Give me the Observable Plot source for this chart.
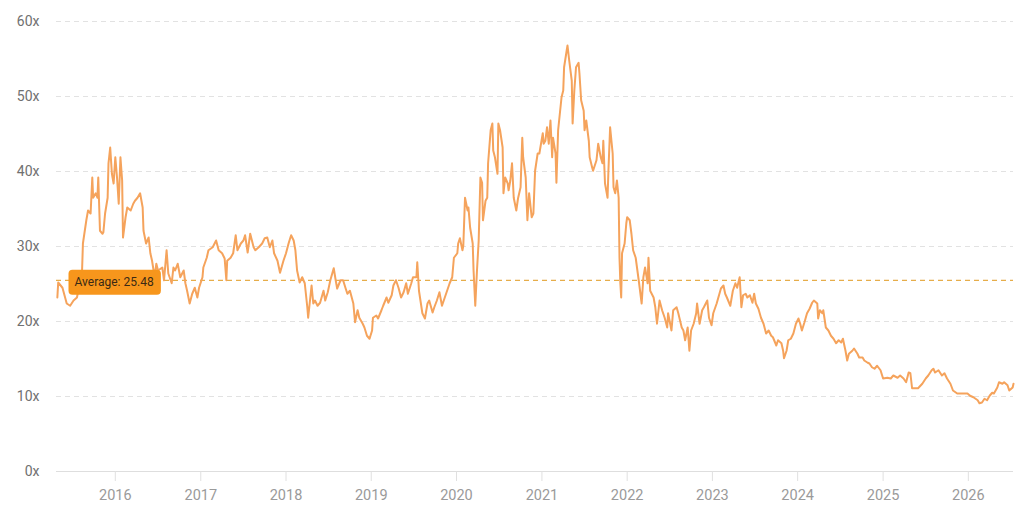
<!DOCTYPE html>
<html><head><meta charset="utf-8">
<script src="https://cdn.jsdelivr.net/npm/d3@7"></script>
<script src="https://cdn.jsdelivr.net/npm/@observablehq/plot@0.6"></script>
<style>html,body{margin:0;padding:0;background:#fff;} #chart{width:1036px;height:514px;}</style>
</head><body><div id="chart"></div>
<script>
// decimal years of each observation
const years = [
2015.32,2015.33,2015.38,2015.43,2015.47,2015.51,2015.55,2015.59,2015.61,2015.62,
2015.66,2015.68,2015.71,2015.73,2015.74,2015.77,2015.79,2015.80,2015.82,2015.85,
2015.86,2015.88,2015.91,2015.92,2015.94,2015.96,2015.98,2016.00,2016.02,2016.04,
2016.06,2016.08,2016.09,2016.12,2016.14,2016.18,2016.21,2016.23,2016.26,2016.29,
2016.32,2016.33,2016.36,2016.39,2016.41,2016.43,2016.46,2016.48,2016.50,2016.55,
2016.57,2016.60,2016.62,2016.66,2016.68,2016.70,2016.73,2016.76,2016.80,2016.82,
2016.84,2016.87,2016.90,2016.93,2016.96,2016.98,2017.02,2017.03,2017.07,2017.09,
2017.14,2017.18,2017.21,2017.25,2017.28,2017.30,2017.31,2017.35,2017.38,2017.41,
2017.43,2017.47,2017.50,2017.52,2017.55,2017.58,2017.62,2017.64,2017.68,2017.72,
2017.75,2017.78,2017.81,2017.84,2017.86,2017.90,2017.93,2017.97,2018.00,2018.03,
2018.06,2018.09,2018.11,2018.13,2018.16,2018.19,2018.22,2018.25,2018.26,2018.30,
2018.32,2018.34,2018.37,2018.40,2018.44,2018.46,2018.49,2018.52,2018.56,2018.58,
2018.60,2018.64,2018.67,2018.70,2018.72,2018.75,2018.79,2018.81,2018.84,2018.86,
2018.90,2018.92,2018.95,2018.98,2019.01,2019.02,2019.06,2019.08,2019.12,2019.14,
2019.18,2019.20,2019.24,2019.26,2019.29,2019.32,2019.35,2019.38,2019.41,2019.43,
2019.47,2019.49,2019.53,2019.54,2019.56,2019.60,2019.63,2019.66,2019.68,2019.72,
2019.74,2019.77,2019.80,2019.83,2019.86,2019.89,2019.92,2019.95,2019.97,2020.01,
2020.02,2020.04,2020.07,2020.08,2020.10,2020.13,2020.14,2020.16,2020.19,2020.20,
2020.22,2020.24,2020.26,2020.28,2020.30,2020.31,2020.34,2020.36,2020.37,2020.40,
2020.42,2020.43,2020.45,2020.48,2020.49,2020.51,2020.54,2020.55,2020.57,2020.60,
2020.61,2020.63,2020.65,2020.67,2020.70,2020.72,2020.75,2020.77,2020.78,2020.81,
2020.83,2020.85,2020.88,2020.90,2020.92,2020.95,2020.97,2021.01,2021.02,2021.04,
2021.06,2021.08,2021.10,2021.12,2021.13,2021.16,2021.17,2021.19,2021.23,2021.25,
2021.26,2021.29,2021.30,2021.32,2021.35,2021.36,2021.38,2021.40,2021.43,2021.44,
2021.46,2021.49,2021.50,2021.52,2021.55,2021.56,2021.59,2021.60,2021.64,2021.66,
2021.69,2021.71,2021.72,2021.74,2021.77,2021.78,2021.80,2021.83,2021.84,2021.86,
2021.88,2021.90,2021.91,2021.92,2021.93,2021.94,2021.97,2021.99,2022.00,2022.03,
2022.05,2022.07,2022.10,2022.12,2022.14,2022.17,2022.19,2022.21,2022.24,2022.25,
2022.27,2022.31,2022.33,2022.35,2022.38,2022.41,2022.44,2022.47,2022.48,2022.52,
2022.54,2022.58,2022.60,2022.64,2022.66,2022.68,2022.71,2022.73,2022.75,2022.78,
2022.81,2022.82,2022.85,2022.88,2022.90,2022.94,2022.96,2022.99,2023.01,2023.05,
2023.07,2023.10,2023.13,2023.15,2023.17,2023.21,2023.24,2023.27,2023.29,2023.32,
2023.34,2023.36,2023.39,2023.41,2023.44,2023.47,2023.49,2023.51,2023.54,2023.57,
2023.60,2023.63,2023.66,2023.69,2023.71,2023.75,2023.77,2023.81,2023.83,2023.84,
2023.87,2023.89,2023.92,2023.95,2023.98,2024.01,2024.03,2024.05,2024.08,2024.11,
2024.14,2024.17,2024.19,2024.23,2024.24,2024.26,2024.29,2024.30,2024.33,2024.36,
2024.39,2024.42,2024.45,2024.48,2024.51,2024.53,2024.56,2024.58,2024.60,2024.64,
2024.66,2024.70,2024.72,2024.76,2024.78,2024.82,2024.84,2024.87,2024.90,2024.93,
2024.97,2025.00,2025.05,2025.09,2025.12,2025.17,2025.20,2025.24,2025.27,2025.30,
2025.32,2025.34,2025.38,2025.41,2025.46,2025.50,2025.53,2025.57,2025.59,2025.61,
2025.65,2025.69,2025.72,2025.75,2025.79,2025.82,2025.87,2025.91,2025.94,2025.99,
2026.02,2026.06,2026.11,2026.13,2026.16,2026.19,2026.22,2026.25,2026.28,2026.30,
2026.34,2026.36,2026.40,2026.42,2026.46,2026.48,2026.52,2026.53
];
// P/E multiple at each observation
const peRatio = [
23.2,25.2,24.5,22.4,22.1,22.8,23.2,25.5,26.8,30.4,
33.5,34.8,34.4,39.2,36.5,37.1,36.5,39.2,32.1,31.7,
31.9,34.4,36.5,41.1,43.2,39.7,38.4,41.9,39.2,35.7,
41.9,38.8,31.2,33.9,35.2,34.8,35.7,36.1,36.5,37.1,
35.2,32.1,30.4,31.2,29.1,28.1,25.9,27.7,26.8,27.2,
25.5,29.5,26.4,25.1,27.2,26.8,27.7,25.9,26.8,25.1,
24.1,22.4,23.7,24.5,23.2,24.5,25.9,27.2,28.5,29.5,
29.9,30.8,29.5,29.1,28.4,25.5,28.1,28.5,29.1,31.5,
29.5,30.4,30.8,31.5,29.2,31.7,29.9,29.5,29.9,30.4,
31.1,31.2,29.9,30.8,29.1,28.1,26.5,28.1,29.1,30.4,
31.5,30.8,29.5,26.8,25.2,25.9,25.1,21.9,20.5,24.8,
22.4,22.8,22.1,22.5,24.1,22.8,23.9,25.5,27.1,25.7,
24.4,25.5,25.5,24.4,23.7,24.1,22.4,19.9,21.5,20.5,
19.7,19.2,18.1,17.7,18.8,20.5,20.8,20.4,21.5,22.1,
23.2,22.5,23.5,24.8,25.5,24.5,23.2,23.9,25.1,23.7,
25.1,25.9,25.9,27.9,24.1,21.1,20.4,22.4,22.8,21.2,
21.9,22.8,23.9,22.1,23.1,24.1,25.1,25.9,28.5,29.1,
30.4,31.1,29.5,30.1,36.5,34.8,35.2,32.5,30.4,26.8,
22.1,26.8,30.8,39.2,38.5,33.5,36.1,36.5,41.1,45.5,
46.4,42.8,41.9,39.7,46.4,45.5,43.2,37.1,39.2,38.4,
37.5,38.8,41.1,36.5,34.8,36.4,37.9,44.5,41.9,39.2,
33.5,37.1,33.9,34.4,40.1,42.4,42.4,45.1,43.7,44.1,
45.9,43.7,46.8,41.9,44.5,42.4,38.5,45.5,49.9,50.8,
53.9,56.1,56.8,54.8,52.1,46.4,50.8,53.9,54.5,53.1,
49.5,48.1,45.5,46.8,44.1,41.9,40.5,40.1,41.5,43.7,
41.9,41.1,44.1,38.4,36.5,40.1,45.9,42.4,37.9,37.1,
38.8,36.5,28.5,25.1,23.2,29.1,30.4,33.1,33.9,33.5,
31.7,29.5,28.5,26.8,25.1,22.4,25.9,27.2,25.1,28.5,
24.1,23.2,21.9,19.7,22.8,21.5,20.5,19.2,21.1,18.8,
21.5,21.9,21.1,19.2,18.8,17.5,19.2,16.1,18.8,19.7,
21.1,22.4,19.7,21.5,21.9,22.8,20.5,19.5,21.1,22.4,
23.2,24.4,24.8,23.7,23.2,22.1,24.1,25.1,24.5,25.9,
21.9,23.5,23.7,23.2,23.5,22.5,23.7,22.4,21.7,20.5,
19.7,18.4,18.8,18.1,17.9,16.8,17.5,17.1,16.1,15.1,
16.1,17.5,17.7,18.4,19.7,20.4,19.7,18.8,19.9,21.1,
21.7,22.5,22.8,22.4,20.4,21.5,21.1,21.5,19.2,18.8,
18.1,17.7,17.1,17.5,17.2,17.7,16.1,14.8,15.7,16.1,
16.4,15.7,15.2,15.2,14.8,14.5,14.4,13.9,13.7,14.1,
13.5,12.4,12.5,12.4,12.8,12.5,12.8,12.4,11.9,13.2,
13.1,11.1,11.1,11.1,11.7,12.4,12.8,13.5,13.7,13.2,
13.5,12.8,13.1,12.4,11.7,10.8,10.4,10.4,10.4,10.4,
10.1,9.9,9.5,9.1,9.2,9.7,9.5,10.1,10.5,10.4,
11.2,11.9,11.7,11.9,11.5,10.8,11.2,11.7
];
const yTicks = [0, 10, 20, 30, 40, 50, 60];
const xTickYears = [2016, 2017, 2018, 2019, 2020, 2021, 2022, 2023, 2024, 2025, 2026];
const xDomainYears = [2015.31, 2026.53];
const averagePE = 25.48;
const averageLabel = "Average: 25.48";

function toDate(y) {
  const yr = Math.floor(y);
  const s = Date.UTC(yr, 0, 1), e = Date.UTC(yr + 1, 0, 1);
  return new Date(s + (y - yr) * (e - s));
}
const data = years.map((y, i) => ({date: toDate(y), pe: peRatio[i]}));

const chart = Plot.plot({
  width: 1036, height: 514,
  marginLeft: 56, marginRight: 23, marginTop: 21, marginBottom: 43,
  style: {fontFamily: "Roboto, sans-serif", background: "#fff", overflow: "visible"},
  x: {type: "utc", domain: xDomainYears.map(toDate)},
  y: {domain: [0, 60]},
  marks: [
    Plot.gridY(yTicks.filter(d => d > 0), {stroke: "#e2e2e2", strokeOpacity: 1, strokeDasharray: "5,4"}),
    Plot.ruleY([0], {stroke: "#dedede", strokeWidth: 1}),
    Plot.axisY({ticks: yTicks, tickSize: 0, tickPadding: 17, tickFormat: d => `${d}x`,
      fontSize: 14, fill: "#707070", label: null}),
    Plot.axisX({ticks: xTickYears.map(toDate), tickFormat: d3.utcFormat("%Y"),
      tickSize: 10, tickPadding: 8, stroke: "#e0e0e0", fill: "#9a9a9a", fontSize: 14.5, label: null}),
    Plot.ruleY([averagePE], {stroke: "#e6ad4a", strokeDasharray: "5,4", strokeWidth: 1.2}),
    Plot.line(data, {x: "date", y: "pe", stroke: "#f5a35c", strokeWidth: 2}),
    Plot.text([{date: toDate(xDomainYears[0]), pe: averagePE, label: averageLabel}],
      {x: "date", y: "pe", text: "label", textAnchor: "start", dx: 18, dy: 2,
       fill: "#3b2a14", fontSize: 12})
  ]
});
document.getElementById("chart").append(chart);

const txt = [...chart.querySelectorAll("text")].find(t => t.textContent === averageLabel);
if (txt) {
  const bb = txt.getBBox();
  const rect = document.createElementNS("http://www.w3.org/2000/svg", "rect");
  rect.setAttribute("x", bb.x - 6);
  rect.setAttribute("y", bb.y - 5.5);
  rect.setAttribute("width", bb.width + 13);
  rect.setAttribute("height", bb.height + 11);
  rect.setAttribute("rx", 4);
  rect.setAttribute("fill", "#f7961c");
  if (txt.getAttribute("transform")) rect.setAttribute("transform", txt.getAttribute("transform"));
  txt.parentNode.insertBefore(rect, txt);
}
</script>
</body></html>
